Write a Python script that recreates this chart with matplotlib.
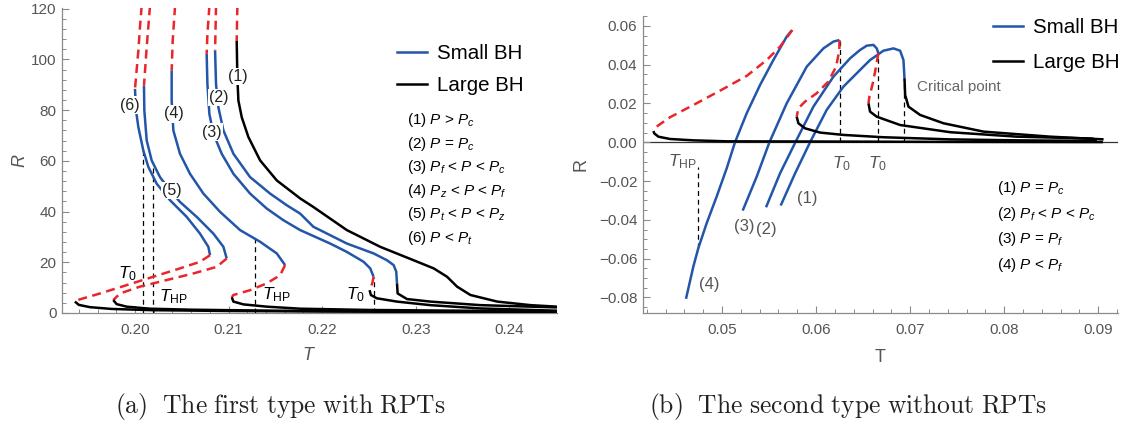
import matplotlib
matplotlib.use('Agg')
import matplotlib.pyplot as plt
from matplotlib.lines import Line2D
from matplotlib.ticker import MultipleLocator, FuncFormatter

plt.rcParams['font.family'] = ['Liberation Sans', 'DejaVu Sans']
plt.rcParams['mathtext.fontset'] = 'custom'
plt.rcParams['mathtext.rm'] = 'Liberation Sans'
plt.rcParams['mathtext.it'] = 'Liberation Sans:italic'
plt.rcParams['mathtext.bf'] = 'Liberation Sans:bold'

# ---------------- data: panel (a) ----------------
a6_up_T = [0.20071, 0.20053, 0.20036, 0.20000]
a6_up_R = [121, 112.6, 103.5, 88.4]
a6_small_T = [0.20000, 0.20011, 0.20036, 0.20089, 0.20143, 0.20232, 0.20374, 0.20553, 0.20695, 0.20784, 0.20802]
a6_small_R = [88.4, 79.9, 73.3, 64.1, 57.6, 51.0, 44.5, 37.9, 31.3, 26.1, 22.8]
a6_unst_T = [0.20802, 0.20695, 0.20481, 0.20196, 0.19911, 0.19626, 0.19412, 0.19358]
a6_unst_R = [22.8, 20.2, 17.6, 14.3, 11.0, 7.7, 5.4, 4.5]
a6_large_T = [0.19358, 0.1940, 0.1952, 0.1975, 0.2020, 0.2100, 0.2200, 0.2300, 0.2451]
a6_large_R = [4.5, 3.2, 2.3, 1.6, 1.1, 0.8, 0.6, 0.45, 0.35]

a5_up_T = [0.2016, 0.20125, 0.20096]
a5_up_R = [121, 104.8, 89.7]
a5_small_T = [0.20096, 0.2010, 0.20125, 0.20178, 0.20267, 0.20374, 0.20481, 0.2066, 0.20838, 0.20945, 0.2098]
a5_small_R = [89.7, 79.9, 68.1, 60.2, 53.6, 48.4, 43.8, 37.9, 31.3, 26.1, 21.5]
a5_unst_T = [0.2098, 0.20873, 0.20624, 0.20339, 0.20053, 0.1984, 0.19768]
a5_unst_R = [21.5, 18.2, 15.6, 13.0, 10.4, 7.7, 5.1]
a5_large_T = [0.19768, 0.19804, 0.19911, 0.2016, 0.2060, 0.2150, 0.2300, 0.2451]
a5_large_R = [5.1, 3.5, 2.5, 1.7, 1.3, 0.9, 0.6, 0.45]

a4_up_T = [0.20428, 0.20403, 0.20392]
a4_up_R = [121, 107.4, 95.6]
a4_small_T = [0.20392, 0.20392, 0.2041, 0.20481, 0.20588, 0.20731, 0.20909, 0.21123, 0.21337, 0.21515, 0.21604]
a4_small_R = [95.6, 83.8, 72.0, 62.8, 54.9, 47.1, 39.9, 32.7, 28.1, 23.5, 18.9]
a4_unst_T = [0.21604, 0.21551, 0.21408, 0.2123, 0.21052, 0.21034]
a4_unst_R = [18.9, 14.9, 11.7, 9.0, 7.1, 6.2]
a4_large_T = [0.21034, 0.21052, 0.21159, 0.21408, 0.21765, 0.2250, 0.2350, 0.2451]
a4_large_R = [6.2, 4.5, 3.4, 2.5, 1.7, 1.2, 0.9, 0.7]

a3_up_T = [0.20795, 0.20774, 0.20766]
a3_up_R = [121, 110.0, 102.2]
a3_small_T = [0.20766, 0.20774, 0.20795, 0.20838, 0.20927, 0.21052, 0.2123, 0.21408, 0.21586, 0.21765,
              0.22086, 0.22264, 0.22443, 0.22514, 0.2255]
a3_small_R = [102.2, 90.3, 78.5, 70.7, 62.8, 54.9, 47.1, 41.2, 36.6, 32.7, 27.4, 24.1, 20.2, 17.6, 14.3]
a3_unst_T = [0.2255, 0.22536, 0.22507]
a3_unst_R = [14.3, 11.7, 9.0]
a3_large_T = [0.22507, 0.22521, 0.22585, 0.22799, 0.23156, 0.23692, 0.2451]
a3_large_R = [9.0, 7.1, 5.8, 4.5, 3.1, 1.8, 0.9]

a2_up_T = [0.20866, 0.20856]
a2_up_R = [121, 103.5]
a2_small_T = [0.20856, 0.20866, 0.20891, 0.20945, 0.21052, 0.2123, 0.21444, 0.21622, 0.21765, 0.21907,
              0.22264, 0.2255, 0.22693, 0.22764, 0.22792, 0.228]
a2_small_R = [103.5, 90.3, 81.2, 72.0, 62.8, 53.6, 47.1, 42.5, 39.2, 34.0, 27.4, 23.5, 20.8, 18.9, 16.3, 11.7]
a2_large_T = [0.228, 0.22807, 0.22907, 0.23156, 0.23692, 0.2451]
a2_large_R = [11.7, 7.7, 5.5, 4.5, 3.1, 2.2]

a1_up_T = [0.21094, 0.21087]
a1_up_R = [121, 107.4]
a1_large_T = [0.21087, 0.21094, 0.21105, 0.21141, 0.21212, 0.21337, 0.21515, 0.21765, 0.21907, 0.22264,
              0.22621, 0.22978, 0.23192, 0.23335, 0.23442, 0.23585, 0.23871, 0.24228, 0.2451]
a1_large_R = [107.4, 93.0, 83.8, 77.2, 69.4, 60.2, 52.3, 45.2, 41.8, 32.7, 26.1, 20.8, 17.6, 14.3, 10.4,
              7.1, 4.5, 3.1, 2.5]

a_vline_T = [0.20089, 0.20189, 0.21283, 0.2255]
a_vline_R = [64.1, 59.3, 29.5, 14.3]

a_curve_labels = ['(6)', '(5)', '(4)', '(3)', '(2)', '(1)']
a_curve_label_T = [0.19947, 0.20396, 0.20417, 0.20824, 0.20898, 0.21094]
a_curve_label_R = [82.0, 48.4, 78.5, 71.3, 85.0, 93.3]

a_mark_labels = [r'$T_0$', r'$T_{\mathrm{HP}}$', r'$T_{\mathrm{HP}}$', r'$T_0$']
a_mark_T = [0.19925, 0.20406, 0.21515, 0.22353]
a_mark_R = [15.6, 6.3, 7.1, 7.1]

a_cases = [r'(1) $P$ > $P_c$', r'(2) $P$ = $P_c$', r'(3) $P_f$ < $P$ < $P_c$', r'(4) $P_z$ < $P$ < $P_f$',
           r'(5) $P_t$ < $P$ < $P_z$', r'(6) $P$ < $P_t$']

# ---------------- data: panel (b) ----------------
b4_small_T = [0.04617, 0.04695, 0.04748, 0.04837, 0.04943, 0.0505, 0.05138, 0.05262, 0.05404, 0.05546, 0.05688, 0.05741]
b4_small_R = [-0.0807, -0.0641, -0.0546, -0.0417, -0.0280, -0.0134, 0.0, 0.0149, 0.0295, 0.0424, 0.0545, 0.0576]
b4_unst_T = [0.05748, 0.05617, 0.05475, 0.05262, 0.04979, 0.04695, 0.04447, 0.04305]
b4_unst_R = [0.0579, 0.0493, 0.0424, 0.0342, 0.0266, 0.0192, 0.0129, 0.0081]
b4_large_T = [0.0427, 0.0428, 0.04323, 0.04447, 0.04695, 0.0505, 0.0600, 0.0750, 0.0905]
b4_large_R = [0.0058, 0.0046, 0.0029, 0.0017, 0.0010, 0.0005, 0.0004, 0.0002, 0.0001]

b3_small_T = [0.0522, 0.05369, 0.05504, 0.05688, 0.05901, 0.06078, 0.06184, 0.06248]
b3_small_R = [-0.0352, -0.0177, 0.0, 0.0201, 0.0390, 0.0484, 0.0519, 0.0527]
b3_unst_T = [0.06248, 0.06248, 0.06213, 0.06131, 0.06007, 0.05883, 0.05812, 0.05794]
b3_unst_R = [0.0527, 0.0476, 0.0390, 0.0313, 0.0253, 0.0210, 0.0175, 0.0132]
b3_large_T = [0.05794, 0.05812, 0.05883, 0.06043, 0.06291, 0.06716, 0.07426, 0.08135, 0.08986]
b3_large_R = [0.0132, 0.0098, 0.0072, 0.0050, 0.0038, 0.0026, 0.0015, 0.0010, 0.0007]

b2_small_T = [0.05468, 0.05617, 0.0578, 0.05972, 0.06184, 0.06362, 0.06468, 0.06539, 0.0661, 0.06645, 0.06662]
b2_small_R = [-0.0335, -0.016, 0.0, 0.0184, 0.0338, 0.0433, 0.0476, 0.0498, 0.0502, 0.0484, 0.0459]
b2_unst_T = [0.06662, 0.06638, 0.06603, 0.06567, 0.06557]
b2_unst_R = [0.0459, 0.0390, 0.0304, 0.0235, 0.0201]
b2_large_T = [0.06557, 0.06574, 0.06645, 0.06894, 0.07426, 0.08135, 0.0895]
b2_large_R = [0.0201, 0.0158, 0.0132, 0.0089, 0.0052, 0.0029, 0.0019]

b1_small_T = [0.05624, 0.05777, 0.05936, 0.06113, 0.06291, 0.06468, 0.06574, 0.06716, 0.06823, 0.06894, 0.06929, 0.0694]
b1_small_R = [-0.0326, -0.016, 0.0, 0.0167, 0.0287, 0.0373, 0.0424, 0.0472, 0.0484, 0.0472, 0.0424, 0.0330]
b1_large_T = [0.0694, 0.06947, 0.06982, 0.07106, 0.07355, 0.0778, 0.08489, 0.09057]
b1_large_R = [0.0330, 0.0244, 0.0184, 0.0141, 0.0098, 0.0055, 0.0029, 0.0015]

b_vline_T = [0.04748, 0.06255, 0.06663, 0.0694]
b_vline_top = [-0.0125, 0.0520, 0.0459, 0.0330]
b_vline_bot = [-0.0546, 0.0, 0.0, 0.0]

b_curve_labels = ['(1)', '(2)', '(3)', '(4)']
b_curve_label_T = [0.05908, 0.05475, 0.05234, 0.04862]
b_curve_label_R = [-0.0289, -0.0448, -0.0435, -0.0735]

b_mark_labels = [r'$T_{\mathrm{HP}}$', r'$T_0$', r'$T_0$']
b_mark_T = [0.04582, 0.06265, 0.06655]
b_mark_R = [-0.0100, -0.0108, -0.0108]

b_cases = [r'(1) $P$ = $P_c$', r'(2) $P_f$ < $P$ < $P_c$', r'(3) $P$ = $P_f$', r'(4) $P$ < $P_f$']

# ---------------- style ----------------
BLUE = '#2356A8'
RED = '#E8262B'
BLACK = '#000000'
AXC = '#8a8a8a'
TICKC = '#555555'
LW = 1.8

fig = plt.figure(figsize=(11.23, 4.28), dpi=100)
axL = fig.add_axes([62 / 1123, 115 / 428, 495 / 1123, 305 / 428])
axR = fig.add_axes([643 / 1123, 115 / 428, 475 / 1123, 297 / 428])


def style(ax):
    for s in ['top', 'right']:
        ax.spines[s].set_visible(False)
    for s in ['left', 'bottom']:
        ax.spines[s].set_color(AXC)
        ax.spines[s].set_linewidth(0.9)
    ax.tick_params(which='both', direction='in', color=AXC, labelcolor=TICKC, labelsize=11)
    ax.tick_params(which='major', length=5, width=0.8)
    ax.tick_params(which='minor', length=2.8, width=0.7)
    ax.tick_params(axis='x', pad=7)
    ax.tick_params(axis='y', pad=4)


def solid(ax, T, R, c):
    ax.plot(T, R, color=c, lw=LW, solid_capstyle='butt', solid_joinstyle='round', zorder=3)


def dashed(ax, T, R):
    ax.plot(T, R, color=RED, lw=LW, dashes=(3.6, 2.2), zorder=3)


# ---- panel (a) ----
for up_T, up_R in [(a6_up_T, a6_up_R), (a5_up_T, a5_up_R), (a4_up_T, a4_up_R),
                   (a3_up_T, a3_up_R), (a2_up_T, a2_up_R), (a1_up_T, a1_up_R)]:
    dashed(axL, up_T, up_R)
for sT, sR in [(a6_small_T, a6_small_R), (a5_small_T, a5_small_R), (a4_small_T, a4_small_R),
               (a3_small_T, a3_small_R), (a2_small_T, a2_small_R)]:
    solid(axL, sT, sR, BLUE)
for uT, uR in [(a6_unst_T, a6_unst_R), (a5_unst_T, a5_unst_R), (a4_unst_T, a4_unst_R),
               (a3_unst_T, a3_unst_R)]:
    dashed(axL, uT, uR)
for lT, lR in [(a6_large_T, a6_large_R), (a5_large_T, a5_large_R), (a4_large_T, a4_large_R),
               (a3_large_T, a3_large_R), (a2_large_T, a2_large_R), (a1_large_T, a1_large_R)]:
    solid(axL, lT, lR, BLACK)

axL.vlines(a_vline_T, 0, a_vline_R, colors='black', lw=0.9, linestyles=(0, (4, 3)), zorder=2)

for lab, t, r in zip(a_curve_labels, a_curve_label_T, a_curve_label_R):
    axL.text(t, r, lab, fontsize=11.5, color='#222222', ha='center', va='center', zorder=5,
             bbox=dict(boxstyle='square,pad=0.08', fc='white', ec='none'))
for lab, t, r in zip(a_mark_labels, a_mark_T, a_mark_R):
    axL.text(t, r, lab, fontsize=12.5, color='black', ha='center', va='center', zorder=5)

for i, s in enumerate(a_cases):
    axL.text(0.697, 0.633 - i * 0.0775, s, transform=axL.transAxes, fontsize=11,
             color='black', ha='left', va='center')

axL.set_xlim(0.1922, 0.2451)
axL.set_ylim(0, 120.3)
style(axL)
axL.xaxis.set_major_locator(MultipleLocator(0.01))
axL.xaxis.set_minor_locator(MultipleLocator(0.002))
axL.yaxis.set_major_locator(MultipleLocator(20))
axL.yaxis.set_minor_locator(MultipleLocator(4))
axL.xaxis.set_major_formatter(FuncFormatter(lambda v, p: f'{v:.2f}'))
axL.yaxis.set_major_formatter(FuncFormatter(lambda v, p: f'{v:.0f}'))
axL.set_xlabel(r'$T$', fontsize=13, color=TICKC)
axL.set_ylabel(r'$R$', fontsize=13, color=TICKC)
axL.xaxis.set_label_coords(0.5, -0.112)
axL.yaxis.set_label_coords(-0.066, 0.5)

hL = [Line2D([], [], color=BLUE, lw=LW), Line2D([], [], color=BLACK, lw=LW)]
axL.legend(hL, ['Small BH', 'Large BH'], loc='upper left', bbox_to_anchor=(0.677, 0.881),
           frameon=False, fontsize=14.8, handlelength=1.46, handletextpad=0.49,
           labelspacing=0.61, borderpad=0, borderaxespad=0)

# ---- panel (b) ----
axR.axhline(0, color='#333333', lw=0.9, zorder=1)
for sT, sR in [(b4_small_T, b4_small_R), (b3_small_T, b3_small_R), (b2_small_T, b2_small_R),
               (b1_small_T, b1_small_R)]:
    solid(axR, sT, sR, BLUE)
for uT, uR in [(b4_unst_T, b4_unst_R), (b3_unst_T, b3_unst_R), (b2_unst_T, b2_unst_R)]:
    dashed(axR, uT, uR)
for lT, lR in [(b4_large_T, b4_large_R), (b3_large_T, b3_large_R), (b2_large_T, b2_large_R),
               (b1_large_T, b1_large_R)]:
    solid(axR, lT, lR, BLACK)

axR.vlines(b_vline_T, b_vline_bot, b_vline_top, colors='black', lw=0.9, linestyles=(0, (4, 3)), zorder=2)

for lab, t, r in zip(b_curve_labels, b_curve_label_T, b_curve_label_R):
    axR.text(t, r, lab, fontsize=12, color='#555555', ha='center', va='center', zorder=5)
for lab, t, r in zip(b_mark_labels, b_mark_T, b_mark_R):
    axR.text(t, r, lab, fontsize=12.5, color='#555555', ha='center', va='center', zorder=5)
axR.text(0.0707, 0.0286, 'Critical point', fontsize=11, color='#666666', ha='left', va='center')

for i, s in enumerate(b_cases):
    axR.text(0.745, 0.421 - i * 0.086, s, transform=axR.transAxes, fontsize=11,
             color='black', ha='left', va='center')

axR.set_xlim(0.0416, 0.0921)
axR.set_ylim(-0.0880, 0.0651)
style(axR)
axR.xaxis.set_major_locator(MultipleLocator(0.01))
axR.xaxis.set_minor_locator(MultipleLocator(0.002))
axR.yaxis.set_major_locator(MultipleLocator(0.02))
axR.yaxis.set_minor_locator(MultipleLocator(0.005))
axR.xaxis.set_major_formatter(FuncFormatter(lambda v, p: f'{v:.2f}'))
axR.yaxis.set_major_formatter(FuncFormatter(lambda v, p: f'{abs(v):.2f}' if abs(v) < 1e-9 else f'{v:.2f}'.replace('-', '\u2212')))
axR.set_xlabel('T', fontsize=13, color=TICKC)
axR.set_ylabel('R', fontsize=13, color=TICKC)
axR.xaxis.set_label_coords(0.5, -0.121)
axR.yaxis.set_label_coords(-0.113, 0.5)

hR = [Line2D([], [], color=BLUE, lw=LW), Line2D([], [], color=BLACK, lw=LW)]
axR.legend(hR, ['Small BH', 'Large BH'], loc='upper left', bbox_to_anchor=(0.737, 0.992),
           frameon=False, fontsize=14.8, handlelength=1.46, handletextpad=0.49,
           labelspacing=0.75, borderpad=0, borderaxespad=0)

# ---- captions ----
fig.text(280 / 1123, 1 - 406 / 428, r'$\mathrm{(a)\ \ The\ first\ type\ with\ RPTs}$',
         math_fontfamily='cm', fontsize=18.4, ha='center', va='center', color='#222222')
fig.text(848 / 1123, 1 - 406 / 428, r'$\mathrm{(b)\ \ The\ second\ type\ without\ RPTs}$',
         math_fontfamily='cm', fontsize=18.4, ha='center', va='center', color='#222222')

fig.savefig('out.png', dpi=100)
